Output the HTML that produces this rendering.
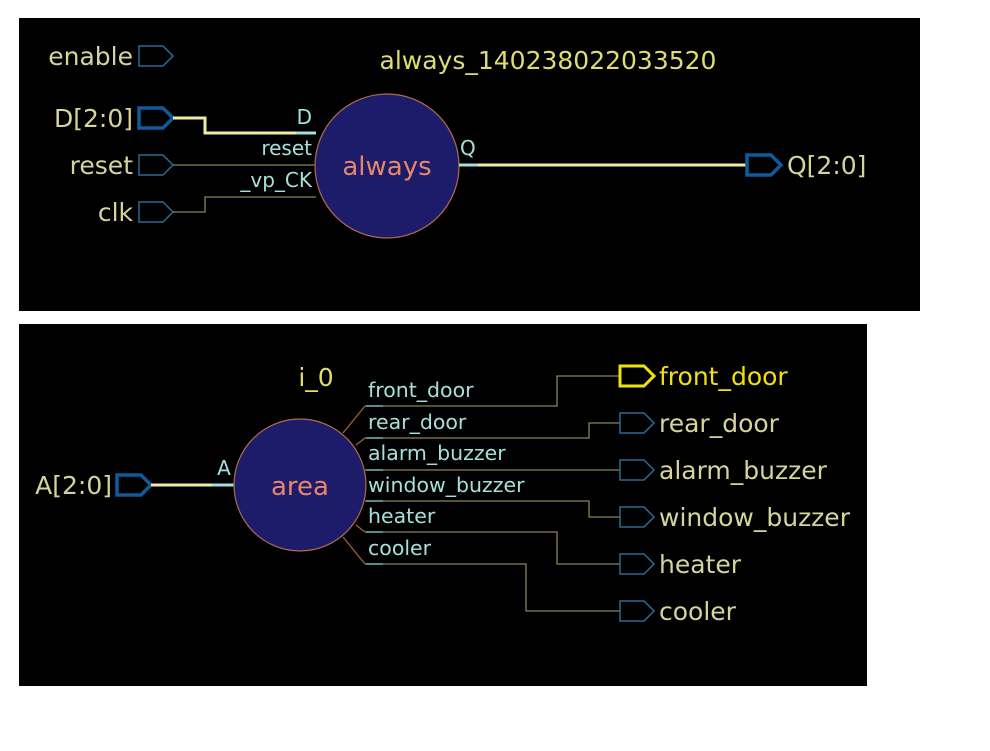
<!DOCTYPE html>
<html><head><style>body{margin:0;background:#fff}svg{display:block}text{font-family:"DejaVu Sans","Liberation Sans",sans-serif}</style></head><body>
<svg width="990" height="751" xmlns="http://www.w3.org/2000/svg">
<rect x="0" y="0" width="990" height="751" fill="#fff"/>
<rect x="19" y="18" width="901" height="293" fill="#000"/>
<rect x="19" y="324" width="848" height="362" fill="#000"/>
<defs>
<path id="pt" d="M0,-10 H24 L34,0 L24,10 H0 Z"/>
</defs>
<!-- panel 1 -->
<g fill="none" stroke="#2a6a96" stroke-width="1.5">
<use href="#pt" x="139" y="56"/><use href="#pt" x="139" y="165"/><use href="#pt" x="139" y="212"/>
</g>
<use href="#pt" x="139" y="118" fill="none" stroke="#0e5a9a" stroke-width="3.5"/>
<g font-size="25" fill="#d6d49c" text-anchor="end">
<text x="133" y="65">enable</text><text x="133" y="127">D[2:0]</text><text x="133" y="174">reset</text><text x="133" y="221">clk</text>
</g>
<polyline points="173,118 205,118 205,133 300,133" fill="none" stroke="#f0eca0" stroke-width="3"/>
<line x1="296" y1="133" x2="316" y2="133" stroke="#9fe0e0" stroke-width="3"/>
<line x1="173" y1="165" x2="316" y2="165" stroke="#8a8358" stroke-width="1.3"/>
<polyline points="173,212 205,212 205,197 316,197" fill="none" stroke="#8a8358" stroke-width="1.3"/>
<g font-size="20" fill="#a6e0dc" text-anchor="end"><text x="312" y="124">D</text><text x="312" y="155">reset</text><text x="312" y="187">_vp_CK</text></g>
<circle cx="387" cy="166" r="72" fill="#1c1c6a" stroke="#b36a4a" stroke-width="1.2"/>
<text x="387" y="175" font-size="26" fill="#e8866a" text-anchor="middle">always</text>
<text x="548" y="69" font-size="25" fill="#e0dc70" text-anchor="middle">always_140238022033520</text>
<text x="460" y="155" font-size="20" fill="#a6e0dc">Q</text>
<line x1="459" y1="165" x2="480" y2="165" stroke="#9fe0e0" stroke-width="3"/>
<line x1="478" y1="165" x2="747" y2="165" stroke="#f0eca0" stroke-width="3"/>
<use href="#pt" x="747" y="165" fill="none" stroke="#0e5a9a" stroke-width="3.5"/>
<text x="787" y="174" font-size="25" fill="#d6d49c">Q[2:0]</text>
<!-- panel 2 -->
<use href="#pt" x="117" y="485" fill="none" stroke="#0e5a9a" stroke-width="3.5"/>
<text x="112" y="494" font-size="25" fill="#d6d49c" text-anchor="end">A[2:0]</text>
<line x1="151" y1="485" x2="215" y2="485" stroke="#f0eca0" stroke-width="3"/>
<line x1="212" y1="485" x2="235" y2="485" stroke="#9fe0e0" stroke-width="3"/>
<text x="224" y="475" font-size="20" fill="#a6e0dc" text-anchor="middle">A</text>
<text x="316" y="386" font-size="25" fill="#e0dc70" text-anchor="middle">i_0</text>
<g stroke="#a0603c" stroke-width="1.3" fill="none">
<line x1="343" y1="433" x2="365" y2="406"/><line x1="356" y1="445" x2="365" y2="438"/>
<line x1="356" y1="525" x2="365" y2="532"/><line x1="343" y1="537" x2="365" y2="564"/>
</g>
<g stroke="#8a8358" stroke-width="1.3" fill="none">
<polyline points="365,406 557,406 557,376 620,376"/>
<polyline points="365,438 589,438 589,423 620,423"/>
<polyline points="365,470 620,470"/>
<polyline points="365,501 589,501 589,517 620,517"/>
<polyline points="365,532 557,532 557,564 620,564"/>
<polyline points="365,564 526,564 526,611 620,611"/>
</g>
<g stroke="#6ab0b0" stroke-width="1.5"><line x1="366" y1="406" x2="383" y2="406"/><line x1="366" y1="438" x2="383" y2="438"/><line x1="366" y1="470" x2="383" y2="470"/><line x1="366" y1="501" x2="383" y2="501"/><line x1="366" y1="532" x2="383" y2="532"/><line x1="366" y1="564" x2="383" y2="564"/></g>
<circle cx="300" cy="485" r="66" fill="#1c1c6a" stroke="#b36a4a" stroke-width="1.2"/>
<text x="300" y="495" font-size="26" fill="#e8866a" text-anchor="middle">area</text>
<g font-size="20.5" fill="#a6e0dc">
<text x="368" y="397">front_door</text><text x="368" y="429">rear_door</text><text x="368" y="460">alarm_buzzer</text><text x="368" y="492">window_buzzer</text><text x="368" y="523">heater</text><text x="368" y="555">cooler</text>
</g>
<use href="#pt" x="620" y="376" fill="none" stroke="#f0e010" stroke-width="3"/>
<g fill="none" stroke="#2a6a96" stroke-width="1.5">
<use href="#pt" x="620" y="423"/><use href="#pt" x="620" y="470"/><use href="#pt" x="620" y="517"/><use href="#pt" x="620" y="564"/><use href="#pt" x="620" y="611"/>
</g>
<g font-size="25" fill="#d6d49c">
<text x="659" y="385" fill="#f0e010">front_door</text><text x="659" y="432">rear_door</text><text x="659" y="479">alarm_buzzer</text><text x="659" y="526">window_buzzer</text><text x="659" y="573">heater</text><text x="659" y="620">cooler</text>
</g>
</svg>
</body></html>
